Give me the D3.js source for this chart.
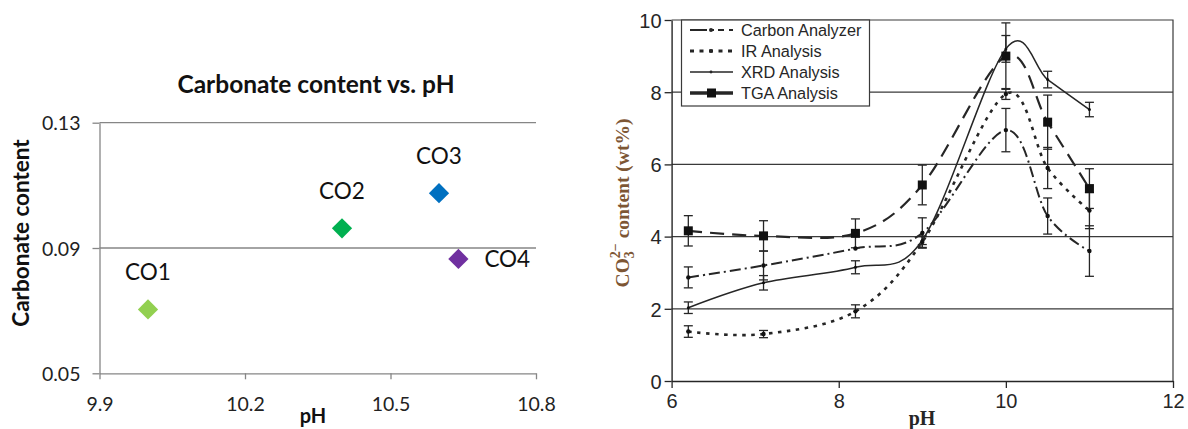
<!DOCTYPE html>
<html>
<head>
<meta charset="utf-8">
<script src="https://cdn.jsdelivr.net/npm/d3@7"></script>
<style>
  html, body { margin: 0; padding: 0; background: #fff; }
  svg { display: block; }
</style>
</head>
<body>
<svg id="chart" width="1188" height="429"></svg>
<script>
// ---------- Left chart data ----------
const leftLabels = ["CO1", "CO2", "CO3", "CO4"];
const leftPH = [10.0, 10.4, 10.6, 10.64];
const leftContent = [0.0704, 0.0963, 0.1075, 0.0865];
const leftColors = ["#92D050", "#00B050", "#0070C0", "#7030A0"];
const leftLabelSide = ["above", "above", "above", "right"];
const leftXTicks = [9.9, 10.2, 10.5, 10.8];
const leftYTicks = [0.05, 0.09, 0.13];

// ---------- Right chart data ----------
const rightPH = [6.2, 7.1, 8.2, 9.0, 10.0, 10.5, 11.0];
const carbon = [2.87, 3.2, 3.67, 4.1, 6.95, 4.57, 3.6];
const carbonErr = [0.29, 0.4, 0, 0.42, 0.6, 0.5, 0.7];
const ir = [1.37, 1.3, 1.93, 3.85, 7.95, 5.9, 4.72];
const irErr = [0.16, 0.1, 0.18, 0.15, 0.15, 0.57, 0.5];
const xrd = [2.03, 2.72, 3.15, 3.9, 9.2, 8.35, 7.52];
const xrdErr = [0.16, 0.2, 0.18, 0.12, 0.37, 0.23, 0.2];
const tga = [4.16, 4.02, 4.09, 5.43, 9.0, 7.17, 5.33];
const tgaErr = [0.42, 0.42, 0.4, 0.55, 0.92, 0.75, 0.55];
const seriesNames = ["Carbon Analyzer", "IR Analysis", "XRD Analysis", "TGA Analysis"];
const rightXTicks = [6, 8, 10, 12];
const rightYTicks = [0, 2, 4, 6, 8, 10];

const svg = d3.select("#chart");

// =================== LEFT CHART ===================
(function () {
  const sans = "Lato, 'Open Sans', sans-serif";
  const axisCol = "#868686";
  const x = d3.scaleLinear().domain([9.9, 10.8]).range([99.5, 536]);
  const y = d3.scaleLinear().domain([0.05, 0.13]).range([373.3, 122.7]);
  const g = svg.append("g");

  g.selectAll("line.grid").data(leftYTicks.slice(1)).enter().append("line")
    .attr("x1", x(9.9)).attr("x2", x(10.8))
    .attr("y1", d => y(d)).attr("y2", d => y(d))
    .attr("stroke", axisCol).attr("stroke-width", 1.3);

  const xa = g.append("g").attr("transform", `translate(0,${y(0.05)})`)
    .call(d3.axisBottom(x).tickValues(leftXTicks).tickSize(6).tickSizeOuter(0).tickFormat(d3.format(".1f")));
  const ya = g.append("g").attr("transform", `translate(${x(9.9)},0)`)
    .call(d3.axisLeft(y).tickValues(leftYTicks).tickSize(7).tickSizeOuter(0).tickFormat(d3.format(".2f")));
  [xa, ya].forEach(a => {
    a.select(".domain").attr("stroke", axisCol).attr("stroke-width", 1.3);
    a.selectAll(".tick line").attr("stroke", axisCol).attr("stroke-width", 1.3);
    a.selectAll(".tick text").attr("fill", "#222").style("font-family", sans).style("font-size", "19.5px");
  });
  xa.selectAll(".tick text").attr("dy", null).attr("y", 38);
  ya.selectAll(".tick text").attr("x", -19).attr("dy", "0.36em");

  const pts = leftLabels.map((l, i) => ({ l, px: leftPH[i], v: leftContent[i], c: leftColors[i], side: leftLabelSide[i] }));
  const sym = d3.symbol().type(d3.symbolSquare).size(205);
  g.selectAll("path.pt").data(pts).enter().append("path")
    .attr("d", sym)
    .attr("transform", d => `translate(${x(d.px)},${y(d.v)}) rotate(45)`)
    .attr("fill", d => d.c);

  g.selectAll("text.lbl").data(pts).enter().append("text")
    .attr("x", d => d.side === "right" ? x(d.px) + 26 : x(d.px))
    .attr("y", d => d.side === "right" ? y(d.v) + 8 : y(d.v) - 29)
    .attr("text-anchor", d => d.side === "right" ? "start" : "middle")
    .style("font-family", sans).style("font-size", "22.5px").attr("fill", "#111")
    .text(d => d.l);

  g.append("text").attr("x", 316).attr("y", 93).attr("text-anchor", "middle")
    .style("font-family", sans).style("font-weight", "bold").style("font-size", "24.5px").attr("fill", "#111")
    .text("Carbonate content vs. pH");
  g.append("text").attr("x", 313).attr("y", 423).attr("text-anchor", "middle")
    .style("font-family", sans).style("font-weight", "bold").style("font-size", "20px").attr("fill", "#111")
    .text("pH");
  g.append("text").attr("transform", "translate(29,233) rotate(-90)").attr("text-anchor", "middle")
    .style("font-family", sans).style("font-weight", "bold").style("font-size", "22.5px").attr("fill", "#111")
    .text("Carbonate content");
})();

// =================== RIGHT CHART ===================
(function () {
  const arial = "'Liberation Sans', Arial, sans-serif";
  const serif = "'Liberation Serif', 'Times New Roman', serif";
  const ink = "#262626";
  const x = d3.scaleLinear().domain([6, 12]).range([671.6, 1173]);
  const y = d3.scaleLinear().domain([0, 10]).range([381, 20]);
  const g = svg.append("g");

  g.selectAll("line.grid").data(rightYTicks.slice(1, -1)).enter().append("line")
    .attr("x1", x(6)).attr("x2", x(12))
    .attr("y1", d => y(d)).attr("y2", d => y(d))
    .attr("stroke", "#3a3a3a").attr("stroke-width", 1.2);
  g.append("path").attr("d", `M${x(6)},${y(10)}H${x(12)}V${y(0)}`)
    .attr("fill", "none").attr("stroke", "#3a3a3a").attr("stroke-width", 1.2);

  const xa = g.append("g").attr("transform", `translate(0,${y(0)})`)
    .call(d3.axisBottom(x).tickValues(rightXTicks).tickSize(7).tickSizeOuter(0).tickFormat(d3.format("d")));
  const ya = g.append("g").attr("transform", `translate(${x(6)},0)`)
    .call(d3.axisLeft(y).tickValues(rightYTicks).tickSize(7).tickSizeOuter(0).tickFormat(d3.format("d")));
  [xa, ya].forEach(a => {
    a.select(".domain").attr("stroke", ink).attr("stroke-width", 1.4);
    a.selectAll(".tick line").attr("stroke", ink).attr("stroke-width", 1.3);
    a.selectAll(".tick text").attr("fill", ink).style("font-family", arial).style("font-size", "20px");
  });
  xa.selectAll(".tick text").attr("dy", null).attr("y", 27);
  ya.selectAll(".tick text").attr("x", -10).attr("dy", "0.36em");

  g.append("text").attr("x", 922).attr("y", 425).attr("text-anchor", "middle")
    .style("font-family", serif).style("font-weight", "bold").style("font-size", "20px").attr("fill", ink)
    .text("pH");
  const yt = g.append("text").attr("transform", "translate(629,203) rotate(-90)").attr("text-anchor", "middle")
    .style("font-family", serif).style("font-weight", "bold").style("font-size", "19.5px").attr("fill", "#7d5634");
  yt.append("tspan").text("CO");
  yt.append("tspan").attr("dy", 5).style("font-size", "14px").text("3");
  yt.append("tspan").attr("dx", -7).attr("dy", -14).style("font-size", "14px").text("2\u2212");
  yt.append("tspan").attr("dy", 9).text(" content (wt%)");

  const series = [
    { name: seriesNames[0], v: carbon, e: carbonErr, dash: "11,4,2,4", w: 2.0, mk: "dot" },
    { name: seriesNames[1], v: ir, e: irErr, dash: "3.5,5.5", w: 2.6, mk: "dot" },
    { name: seriesNames[2], v: xrd, e: xrdErr, dash: null, w: 1.5, mk: "tiny" },
    { name: seriesNames[3], v: tga, e: tgaErr, dash: "14,8", w: 2.2, mk: "square" }
  ];

  const line = d3.line().x(d => x(d.p)).y(d => y(d.v)).curve(d3.curveCardinal.tension(0));

  series.forEach(s => {
    const data = rightPH.map((p, i) => ({ p, v: s.v[i], e: s.e[i] })).filter(d => d.e > 0);
    const eb = g.append("g").attr("stroke", ink).attr("stroke-width", 1.3);
    data.forEach(d => {
      const cx = x(d.p);
      eb.append("line").attr("x1", cx).attr("x2", cx).attr("y1", y(d.v + d.e)).attr("y2", y(d.v - d.e));
      eb.append("line").attr("x1", cx - 4.5).attr("x2", cx + 4.5).attr("y1", y(d.v + d.e)).attr("y2", y(d.v + d.e));
      eb.append("line").attr("x1", cx - 4.5).attr("x2", cx + 4.5).attr("y1", y(d.v - d.e)).attr("y2", y(d.v - d.e));
    });
  });

  series.forEach(s => {
    const data = rightPH.map((p, i) => ({ p, v: s.v[i] }));
    g.append("path").datum(data).attr("d", line)
      .attr("fill", "none").attr("stroke", ink).attr("stroke-width", s.w)
      .attr("stroke-dasharray", s.dash);
  });

  series.forEach(s => {
    const data = rightPH.map((p, i) => ({ p, v: s.v[i] }));
    if (s.mk === "square") {
      g.selectAll(null).data(data).enter().append("rect")
        .attr("x", d => x(d.p) - 4.5).attr("y", d => y(d.v) - 4.5)
        .attr("width", 9).attr("height", 9).attr("fill", "#111");
    } else {
      g.selectAll(null).data(data).enter().append("circle")
        .attr("cx", d => x(d.p)).attr("cy", d => y(d.v))
        .attr("r", s.mk === "tiny" ? 1.5 : 2.2).attr("fill", "#111");
    }
  });

  const lg = g.append("g");
  lg.append("rect").attr("x", 681.5).attr("y", 20).attr("width", 188).attr("height", 86)
    .attr("fill", "#fff").attr("stroke", "#3a3a3a").attr("stroke-width", 1.2);
  const rowsY = [30, 51, 72, 93];
  const lx0 = 690, lx1 = 733;
  lg.append("line").attr("x1", lx0).attr("x2", lx1).attr("y1", rowsY[0]).attr("y2", rowsY[0])
    .attr("stroke", ink).attr("stroke-width", 2).attr("stroke-dasharray", "17,4,3,4,6,5");
  lg.append("circle").attr("cx", 711).attr("cy", rowsY[0]).attr("r", 2).attr("fill", ink);
  lg.append("line").attr("x1", lx0).attr("x2", lx1).attr("y1", rowsY[1]).attr("y2", rowsY[1])
    .attr("stroke", ink).attr("stroke-width", 3.2).attr("stroke-dasharray", "4,5.5");
  lg.append("circle").attr("cx", 711).attr("cy", rowsY[1]).attr("r", 2).attr("fill", ink);
  lg.append("line").attr("x1", lx0).attr("x2", lx1).attr("y1", rowsY[2]).attr("y2", rowsY[2])
    .attr("stroke", ink).attr("stroke-width", 1.5);
  lg.append("circle").attr("cx", 711).attr("cy", rowsY[2]).attr("r", 1.4).attr("fill", ink);
  lg.append("line").attr("x1", lx0).attr("x2", lx1).attr("y1", rowsY[3]).attr("y2", rowsY[3])
    .attr("stroke", ink).attr("stroke-width", 3.5);
  lg.append("rect").attr("x", 707).attr("y", rowsY[3] - 4.5).attr("width", 9).attr("height", 9).attr("fill", "#111");

  lg.selectAll("text.leg").data(seriesNames).enter().append("text")
    .attr("x", 741).attr("y", (d, i) => rowsY[i]).attr("dy", "0.36em")
    .style("font-family", arial).style("font-size", "16.3px").attr("fill", ink)
    .text(d => d);
})();
</script>
</body>
</html>
